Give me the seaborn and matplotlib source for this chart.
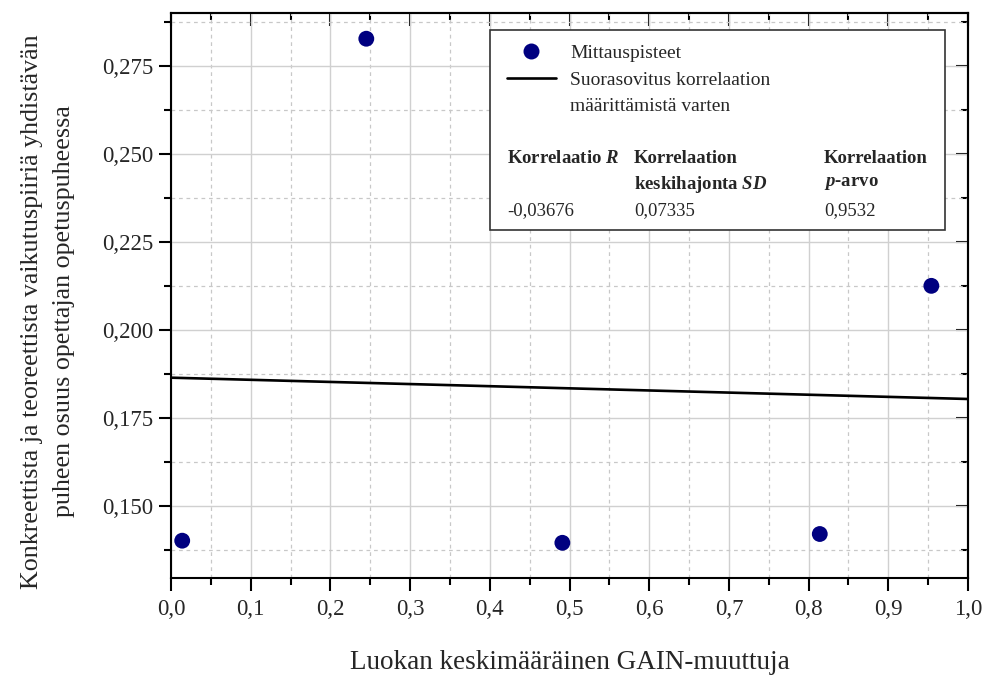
import numpy as np
import pandas as pd
import seaborn as sns
import matplotlib.pyplot as plt
from matplotlib.ticker import MultipleLocator, FuncFormatter
from matplotlib.patches import Rectangle
from matplotlib.lines import Line2D

# =========================
# DATA
# =========================

gain = [0.014, 0.245, 0.491, 0.814, 0.954]
osuus = [0.1401, 0.2827, 0.1395, 0.1420, 0.2125]

stat_headers = ["Korrelaatio $\\mathbfit{R}$",
                "Korrelaation\nkeskihajonta $\\mathbfit{SD}$",
                "Korrelaation\n$\\mathbfit{p}$-arvo"]
stat_values = ["-0,03676", "0,07335", "0,9532"]

x_label = "Luokan keskimääräinen GAIN-muuttuja"
y_label = ("Konkreettista ja teoreettista vaikutuspiiriä yhdistävän\n"
           "puheen osuus opettajan opetuspuheessa")

df = pd.DataFrame({"gain": gain, "osuus": osuus})

# =========================
# STYLE
# =========================

sns.set_style("white")
plt.rcParams["font.family"] = ["Liberation Serif", "DejaVu Serif"]
plt.rcParams["mathtext.fontset"] = "custom"
plt.rcParams["mathtext.rm"] = "Liberation Serif"
plt.rcParams["mathtext.it"] = "Liberation Serif:italic"
plt.rcParams["mathtext.bf"] = "Liberation Serif:bold"
plt.rcParams["mathtext.bfit"] = "Liberation Serif:bold:italic"

fig, ax = plt.subplots(figsize=(9.91, 6.75), dpi=100)
fig.subplots_adjust(left=0.1726, right=0.9768, bottom=0.1437, top=0.9807)

# =========================
# PLOT
# =========================

sns.scatterplot(data=df, x="gain", y="osuus", ax=ax, color="#000080",
                s=130, edgecolor="none", zorder=3)

slope, intercept = np.polyfit(gain, osuus, 1)
fit_x = np.array([0.0, 1.0])
sns.lineplot(x=fit_x, y=intercept + slope * fit_x, ax=ax, color="black",
             linewidth=1.9, zorder=2)

ax.set_xlim(0, 1)
ax.set_ylim(0.1295, 0.290)

def fmt_x(v, p):
    return f"{v:.1f}".replace(".", ",")

def fmt_y(v, p):
    return f"{v:.3f}".replace(".", ",")

ax.xaxis.set_major_locator(MultipleLocator(0.1))
ax.xaxis.set_minor_locator(MultipleLocator(0.05))
ax.yaxis.set_major_locator(MultipleLocator(0.025))
ax.yaxis.set_minor_locator(MultipleLocator(0.0125))
ax.xaxis.set_major_formatter(FuncFormatter(fmt_x))
ax.yaxis.set_major_formatter(FuncFormatter(fmt_y))

ax.grid(which="major", color="#d0d0d0", linewidth=1.0, linestyle="-")
ax.grid(which="minor", color="#c8c8c8", linewidth=0.9, linestyle=(0, (3, 3)))

for sp in ax.spines.values():
    sp.set_visible(True)
    sp.set_color("black")
    sp.set_linewidth(1.5)

ax.tick_params(which="both", left=True, bottom=True, right=False, top=False,
               direction="out", color="black", width=1.5, labelsize=16.5)
ax.tick_params(which="major", length=9)
ax.tick_params(which="minor", length=5)
ax.tick_params(axis="x", pad=6)
ax.tick_params(axis="y", pad=4)

# top and right: ticks pointing inward, no labels
top = ax.secondary_xaxis("top")
right = ax.secondary_yaxis("right")
top.xaxis.set_major_locator(MultipleLocator(0.1))
top.xaxis.set_minor_locator(MultipleLocator(0.05))
right.yaxis.set_major_locator(MultipleLocator(0.025))
right.yaxis.set_minor_locator(MultipleLocator(0.0125))
for sec in (top, right):
    sec.tick_params(which="both", direction="in", color="black", width=1.5,
                    labeltop=False, labelright=False)
    sec.tick_params(which="major", length=9)
    sec.tick_params(which="minor", length=5)
    for sp in sec.spines.values():
        sp.set_linewidth(1.5)

ax.set_xlabel(x_label, fontsize=19.5, labelpad=22)
ax.set_ylabel(y_label, fontsize=18.7, linespacing=1.6)
ax.yaxis.set_label_coords(-0.120, 0.472)

# =========================
# LEGEND + STATS BOX
# =========================

ax.add_patch(Rectangle((0.400, 0.616), 0.571, 0.354, transform=ax.transAxes,
                       facecolor="white", edgecolor="#333333", linewidth=1.2,
                       zorder=4))

handles = [
    Line2D([], [], linestyle="none", marker="o", markersize=11.5,
           markerfacecolor="#000080", markeredgecolor="none"),
    Line2D([], [], color="black", linewidth=1.9),
    Line2D([], [], linestyle="none"),
]
labels = ["Mittauspisteet", "Suorasovitus korrelaation", "määrittämistä varten"]
leg = ax.legend(handles, labels, loc="upper left",
                bbox_to_anchor=(0.412, 0.958), frameon=False,
                fontsize=14, handlelength=2.5, handletextpad=0.75,
                labelspacing=0.45, borderaxespad=0)
leg.set_zorder(5)

col_x = [0.4216, 0.581, 0.819]
for cx, head, val in zip(col_x, stat_headers, stat_values):
    ax.text(cx, 0.758, head, transform=ax.transAxes, fontsize=13.5,
            fontweight="bold", va="top", ha="left", linespacing=1.5, zorder=6)
    ax.text(cx, 0.651, val, transform=ax.transAxes, fontsize=13.5,
            va="center", ha="left", zorder=6)

plt.savefig("out.png", dpi=100)
